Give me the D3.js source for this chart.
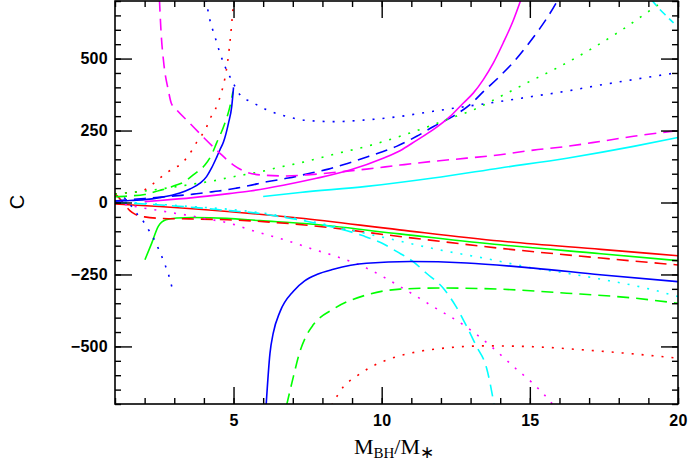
<!DOCTYPE html>
<html><head><meta charset="utf-8">
<script src="https://cdn.jsdelivr.net/npm/d3@7/dist/d3.min.js"></script>
<style>body{margin:0;background:#fff}</style>
</head><body><svg id="c" width="689" height="463"></svg>
<script>
// ---- axis ticks ----
const xMajorTicks = [5, 10, 15, 20];
const xMinorTicks = [1,2,3,4,5,6,7,8,9,10,11,12,13,14,15,16,17,18,19,20];
const yMajorTicks = [-500, -250, 0, 250, 500];
const yMinorTicks = [-700,-650,-600,-550,-500,-450,-400,-350,-300,-250,-200,-150,-100,-50,0,50,100,150,200,250,300,350,400,450,500,550,600,650,700];
const xDomain = [1, 20];
const yDomain = [-700, 700];

// ---- series (x = M_BH/M_*, y = C) ----
const redSolid = [[1,-5],[2.5,-14],[4.8,-31],[7.2,-54],[10.6,-95],[14,-134],[17.4,-163],[20,-185]];
const greenSolid = [[2.01,-199],[2.24,-141],[2.46,-83],[2.72,-60],[3.08,-54],[3.64,-52],[4.77,-55],[5.89,-63],[7.4,-73],[10.6,-109],[14,-147],[17.4,-178],[20,-202]];
const redDashed = [[1,30],[1.15,15],[1.3,-5],[1.5,-28],[1.7,-42],[2,-50],[2.5,-55],[3.5,-57],[4.8,-60],[7.4,-78],[10.6,-118],[14,-159],[17.4,-193],[20,-217]];
const cyanDotted = [[1,2],[2,-3],[3,-10],[4,-17],[5,-25],[6,-37],[7.24,-58],[8.5,-85],[10,-120],[12.07,-167],[13.54,-195],[15.12,-228],[16.5,-250],[17.37,-266],[18.94,-298],[20,-327]];
const cyanDashed = [[1,0],[2,-5],[3,-12],[4,-20],[4.8,-28],[5.8,-37],[6.6,-50],[7.3,-62],[8.0,-77],[9.35,-115],[10,-141],[10.5,-170],[11.07,-206],[11.5,-245],[12.08,-298],[12.5,-360],[12.87,-431],[13.2,-500],[13.54,-575],[13.8,-705]];
const magentaDotted = [[1,0],[1.5,-10],[2,-20],[2.5,-28],[3,-37],[3.5,-45],[4.1,-57],[4.6,-66],[5.0,-76],[5.56,-95],[6.23,-115],[6.79,-132],[7.24,-147],[7.64,-161],[8.37,-184],[9.49,-228],[10.62,-292],[11.74,-362],[12.87,-433],[13.66,-497],[14.56,-580],[15.12,-630],[15.68,-690],[15.8,-705]];
const blueSolidLow = [[6.1,-705],[6.23,-524],[6.34,-454],[6.57,-379],[7.02,-308],[7.4,-272],[7.81,-250],[8.37,-232],[9.49,-211],[10.96,-205],[12.87,-210],[15.12,-228],[17.37,-251],[20,-275]];
const greenDashedLow = [[6.79,-705],[7.02,-605],[7.24,-518],[7.47,-460],[7.69,-425],[8.37,-370],[9.49,-321],[10.62,-301],[12,-297],[14,-301],[16.25,-315],[18.5,-332],[20,-350]];
const redDottedLow = [[8.31,-705],[8.71,-640],[9.16,-603],[9.61,-573],[10.28,-543],[11.18,-519],[12.31,-504],[13.54,-498],[15.12,-501],[16.81,-512],[18.5,-526],[20,-541]];
const blueDottedLow = [[1,30],[1.2,24],[1.4,8],[1.55,-12],[1.67,-31],[1.84,-50],[2.01,-74],[2.18,-103],[2.33,-130],[2.46,-159],[2.58,-188],[2.69,-217],[2.8,-248],[2.88,-278],[2.97,-313]];
const redDottedUp = [[1,30],[1.34,33],[1.64,35],[1.96,42],[2.18,56],[2.4,75],[2.7,100],[3.0,120],[3.21,132],[3.42,155],[3.59,180],[3.76,210],[4.09,262],[4.2,290],[4.37,320],[4.49,350],[4.6,385],[4.75,455],[4.85,530],[4.92,600],[4.97,660],[5.0,705]];
const greenDashedUp = [[1,20],[1.5,23],[2,28],[2.5,42],[2.8,50],[3.0,58],[3.3,70],[3.64,96],[4.04,131],[4.26,166],[4.43,207],[4.71,276],[4.88,334],[4.98,385]];
const blueSolidUp = [[1,5],[1.5,7],[2,10],[2.5,17],[3.19,33],[3.53,47],[3.87,67],[4.09,90],[4.26,120],[4.43,157],[4.55,185],[4.66,210],[4.83,276],[4.94,334],[5.0,400]];
const blueDashedUp = [[1,5],[1.4,9],[2,14],[2.9,22],[3.64,29],[4.09,35],[4.5,40],[4.77,44],[5.1,50],[5.5,58],[6.12,72],[6.85,85],[7.47,99],[8.2,116],[8.82,135],[9.55,160],[10.5,195],[11.18,230],[11.75,264],[12.42,300],[12.98,340],[13.43,385],[14.0,440],[14.45,488],[14.89,543],[15.34,605],[15.87,690],[15.95,705]];
const magentaSolid = [[2,3],[2.52,7],[3.64,17],[4.77,30],[5.56,40],[6.68,60],[7.8,84],[8.93,113],[10.05,154],[10.62,180],[11.18,216],[11.74,253],[12.31,299],[12.75,345],[13.09,380],[13.43,427],[13.77,485],[14.1,554],[14.45,635],[14.7,705]];
const greenDottedUp = [[1,28],[1.34,33],[2,40],[2.6,48],[3.2,57],[3.81,67],[4.32,75],[4.77,85],[5.33,96],[5.95,108],[6.57,123],[7.13,135],[7.81,152],[8.37,167],[9.49,195],[10.62,230],[11.52,262],[12.19,288],[13.1,322],[14,368],[14.89,415],[15.91,467],[17.03,531],[18.04,595],[18.94,659],[19.58,705]];
const blueDottedUp = [[4.07,705],[4.2,635],[4.37,577],[4.54,520],[4.71,473],[4.94,425],[5.19,378],[5.67,346],[6.12,322],[6.79,299],[7.47,285],[8.37,281],[9.49,287],[10.62,299],[11.74,317],[12.87,334],[14,351],[15.12,369],[16.25,387],[17.37,408],[18.5,427],[19.79,448],[20,451]];
const magentaDashedUp = [[2.5,705],[2.55,600],[2.65,480],[2.8,390],[2.9,345],[3.08,322],[3.5,278],[4.0,225],[4.5,175],[5.0,130],[5.33,110],[5.89,96],[6.79,92],[7.47,96],[8.37,104],[9.49,116],[10.62,130],[11.74,143],[12.87,154],[14,166],[15.12,182],[16.25,195],[17.37,212],[18.5,230],[20,250]];
const cyanSolid = [[6.0,21],[7.24,35],[9.49,56],[11.74,85],[14,120],[16.25,154],[18.5,195],[20,226]];
const cyanDashedUp = [[19.1,705],[19.34,676],[19.62,647],[19.85,624]];

// ---- style table (built from the arrays above) ----
const DOT = "2,8", DASH = "12,7";
const series = [
  {d: redSolid, c: "#ff0000", s: null},
  {d: greenSolid, c: "#00ff00", s: null},
  {d: redDashed, c: "#ff0000", s: DASH},
  {d: cyanDotted, c: "#00ffff", s: DOT},
  {d: cyanDashed, c: "#00ffff", s: DASH},
  {d: magentaDotted, c: "#ff00ff", s: DOT},
  {d: blueSolidLow, c: "#0000ff", s: null},
  {d: greenDashedLow, c: "#00ff00", s: DASH},
  {d: redDottedLow, c: "#ff0000", s: DOT},
  {d: blueDottedLow, c: "#0000ff", s: DOT},
  {d: redDottedUp, c: "#ff0000", s: DOT},
  {d: greenDashedUp, c: "#00ff00", s: DASH},
  {d: blueSolidUp, c: "#0000ff", s: null},
  {d: blueDashedUp, c: "#0000ff", s: DASH},
  {d: magentaSolid, c: "#ff00ff", s: null},
  {d: greenDottedUp, c: "#00ff00", s: DOT},
  {d: blueDottedUp, c: "#0000ff", s: DOT},
  {d: magentaDashedUp, c: "#ff00ff", s: DASH},
  {d: cyanSolid, c: "#00ffff", s: null},
  {d: cyanDashedUp, c: "#00ffff", s: "8,5"}
];

const svg = d3.select("#c");
const L = 115, R = 678, T = 1, B = 404;
const x = d3.scaleLinear().domain(xDomain).range([L, R]);
const y = d3.scaleLinear().domain(yDomain).range([B, T]);

svg.append("defs").append("clipPath").attr("id", "clip")
  .append("rect").attr("x", L).attr("y", T).attr("width", R - L).attr("height", B - T);

const line = d3.line().x(p => x(p[0])).y(p => y(p[1])).curve(d3.curveMonotoneX);
const g = svg.append("g").attr("clip-path", "url(#clip)");
series.forEach(sr => {
  g.append("path").attr("d", line(sr.d)).attr("fill", "none")
    .attr("stroke", sr.c).attr("stroke-width", 1.6)
    .attr("stroke-dasharray", sr.s);
});

const font = "'Liberation Sans', Arial, sans-serif";
function axis(gen, ticks, size, labels, tr, pad) {
  const a = gen.tickValues(ticks).tickSizeInner(-size).tickSizeOuter(0).tickPadding(pad || 0);
  if (!labels) a.tickFormat("");
  else a.tickFormat(d => d < 0 ? "\u2212" + Math.abs(d) : String(d));
  const ag = svg.append("g").attr("transform", tr).call(a);
  ag.select(".domain").remove();
  ag.selectAll("line").attr("stroke", "#000").attr("stroke-width", 1.4);
  ag.selectAll("text").attr("fill", "#000").style("font-family", font).style("font-size", "16px")
    .style("font-weight", "bold").style("letter-spacing", "0.3px");
  return ag;
}
// bottom
axis(d3.axisBottom(x), xMinorTicks, 6, false, `translate(0,${B})`);
axis(d3.axisBottom(x), xMajorTicks, 17, true, `translate(0,${B})`, 11);
// top
axis(d3.axisTop(x), xMinorTicks, 6, false, `translate(0,${T})`);
axis(d3.axisTop(x), xMajorTicks, 17, false, `translate(0,${T})`);
// left
axis(d3.axisLeft(y), yMinorTicks, 6, false, `translate(${L},0)`);
axis(d3.axisLeft(y), yMajorTicks, 17, true, `translate(${L},0)`, 7);
// right
axis(d3.axisRight(y), yMinorTicks, 6, false, `translate(${R},0)`);
axis(d3.axisRight(y), yMajorTicks, 17, false, `translate(${R},0)`);

svg.append("rect").attr("x", L).attr("y", T).attr("width", R - L).attr("height", B - T)
  .attr("fill", "none").attr("stroke", "#000").attr("stroke-width", 1.6);

// axis titles
svg.append("text").attr("transform", "translate(24,202) rotate(-90)")
  .attr("text-anchor", "middle").style("font-family", font).style("font-size", "20px").text("C");

const xt = svg.append("text").attr("x", 394).attr("y", 454).attr("text-anchor", "middle")
  .style("font-family", "'Liberation Serif', 'Times New Roman', serif").style("font-size", "22px");
xt.append("tspan").text("M");
xt.append("tspan").attr("dy", 4).style("font-size", "15px").text("BH");
xt.append("tspan").attr("dy", -4).text("/M");
xt.append("tspan").attr("dy", 4).style("font-size", "17px").text("\u2217");
</script></body></html>
